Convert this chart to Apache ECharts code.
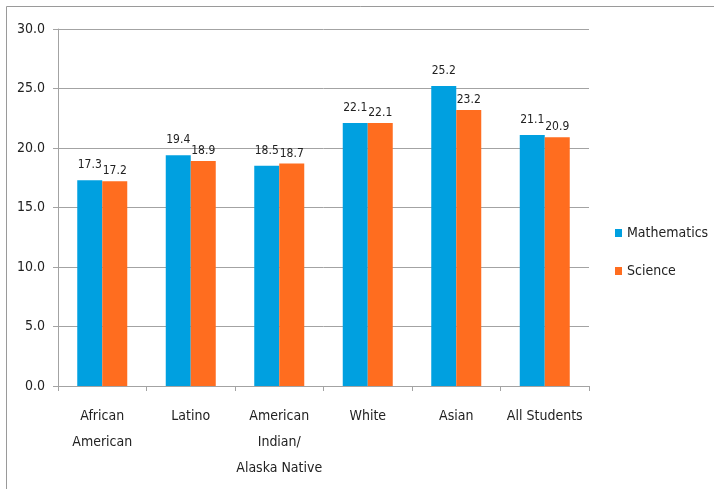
<!DOCTYPE html>
<html>
<head>
<meta charset="utf-8">
<script src="https://cdn.jsdelivr.net/npm/echarts@6/dist/echarts.min.js"></script>
<style>
  html, body { margin: 0; padding: 0; background: #fff; }
  #chart { width: 714px; height: 489px; }
</style>
</head>
<body>
<div id="chart"></div>
<script>
const groups = ["African\nAmerican", "Latino", "American\nIndian/\nAlaska Native", "White", "Asian", "All Students"];
const mathScores = [17.3, 19.4, 18.5, 22.1, 25.2, 21.1];
const scienceScores = [17.2, 18.9, 18.7, 22.1, 23.2, 20.9];
const seriesNames = ["Mathematics", "Science"];

const font = "'DejaVu Sans Condensed', 'Liberation Sans Narrow', sans-serif";
const gray = "#a3a3a3";

const chart = echarts.init(document.getElementById("chart"));

// data labels: blue ones sit a bit higher, like the original
function labelStyle(dist) {
  return {
    show: true,
    position: "top",
    distance: dist,
    color: "#222",
    fontSize: 12,
    fontFamily: font,
    formatter: p => p.value.toFixed(1)
  };
}

chart.setOption({
  animation: false,
  textStyle: { fontFamily: font },
  graphic: [{
    type: "rect",
    shape: { x: 6.5, y: 6.5, width: 720, height: 500 },
    style: { fill: "none", stroke: "#9a9a9a", lineWidth: 1 }
  }],
  grid: { left: 58, right: 125, top: 29, bottom: 103 },
  legend: {
    orient: "vertical",
    left: 610,
    top: 221,
    itemWidth: 7,
    itemHeight: 8,
    itemGap: 24,
    icon: "rect",
    textStyle: { fontSize: 14, color: "#222", fontFamily: font },
    data: seriesNames
  },
  xAxis: {
    type: "category",
    data: groups,
    axisLine: { lineStyle: { color: gray } },
    axisTick: { show: true, length: 5, lineStyle: { color: gray } },
    axisLabel: {
      interval: 0,
      margin: 17,
      color: "#222",
      fontSize: 14,
      lineHeight: 26,
      fontFamily: font
    }
  },
  yAxis: {
    type: "value",
    min: 0,
    max: 30,
    interval: 5,
    axisLine: { show: true, lineStyle: { color: gray } },
    axisTick: { show: true, length: 5, lineStyle: { color: gray } },
    splitLine: { lineStyle: { color: gray } },
    axisLabel: {
      margin: 13,
      color: "#222",
      fontSize: 14,
      fontFamily: font,
      formatter: v => v.toFixed(1)
    }
  },
  series: [
    {
      name: seriesNames[0],
      type: "bar",
      data: mathScores,
      barWidth: 25,
      barGap: "0%",
      itemStyle: { color: "#00a0e0" },
      label: labelStyle(9)
    },
    {
      name: seriesNames[1],
      type: "bar",
      data: scienceScores,
      barWidth: 25,
      barGap: "0%",
      itemStyle: { color: "#ff6d1f" },
      label: labelStyle(4)
    }
  ]
});
</script>
</body>
</html>
